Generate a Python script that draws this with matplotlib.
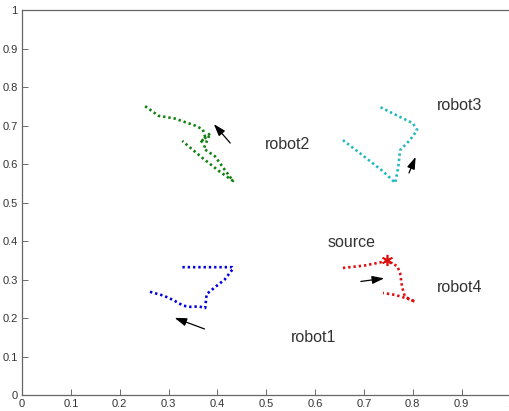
#!/usr/bin/env python3
"""Robot trajectories toward a source: four dotted paths with direction arrows."""
import matplotlib
matplotlib.use("Agg")
import matplotlib.pyplot as plt

plt.rcParams['font.family'] = ['Liberation Sans', 'DejaVu Sans']

# robot paths (x, y)
robot1_x = [0.262, 0.290, 0.309, 0.330, 0.344, 0.362, 0.375, 0.378, 0.395, 0.415, 0.432, 0.430, 0.380, 0.323]
robot1_y = [0.268, 0.258, 0.247, 0.232, 0.229, 0.230, 0.226, 0.262, 0.280, 0.300, 0.328, 0.332, 0.332, 0.332]

robot2_x = [0.252, 0.280, 0.313, 0.354, 0.370, 0.375, 0.365, 0.385, 0.372, 0.395, 0.415, 0.432, 0.405, 0.370, 0.328]
robot2_y = [0.750, 0.725, 0.718, 0.700, 0.690, 0.670, 0.655, 0.680, 0.640, 0.620, 0.585, 0.556, 0.580, 0.615, 0.660]

robot3_x = [0.657, 0.700, 0.740, 0.764, 0.770, 0.774, 0.794, 0.809, 0.800, 0.774, 0.733]
robot3_y = [0.662, 0.620, 0.580, 0.551, 0.590, 0.636, 0.662, 0.688, 0.706, 0.722, 0.748]

robot4_x = [0.657, 0.700, 0.747, 0.768, 0.774, 0.778, 0.784, 0.805, 0.790, 0.764, 0.739]
robot4_y = [0.330, 0.336, 0.348, 0.335, 0.317, 0.281, 0.255, 0.242, 0.250, 0.260, 0.265]

source_xy = (0.747, 0.350)

# arrows: (tail, head)
arrows = [
    ((0.379, 0.169), (0.307, 0.203)),
    ((0.430, 0.649), (0.389, 0.709)),
    ((0.790, 0.570), (0.808, 0.625)),
    ((0.688, 0.294), (0.747, 0.304)),
]

labels = ['robot1', 'robot2', 'robot3', 'robot4', 'source']
label_pos = [(0.551, 0.150), (0.497, 0.650), (0.850, 0.753), (0.850, 0.280), (0.626, 0.395)]

fig = plt.figure(figsize=(5.10, 4.11), dpi=100)
ax = fig.add_axes([22 / 510, 16 / 411, 488.5 / 510, 385 / 411])

dots = (0, (0.9, 1.1))
ax.plot(robot1_x, robot1_y, linestyle=dots, color='#0000dd', linewidth=1.9)
ax.plot(robot2_x, robot2_y, linestyle=dots, color='#108010', linewidth=1.9)
ax.plot(robot3_x, robot3_y, linestyle=dots, color='#20b8c0', linewidth=1.9)
ax.plot(robot4_x, robot4_y, linestyle=dots, color='#dd1010', linewidth=1.9)
ax.plot(*source_xy, marker=(6, 2, 0), color='#dd1010', markersize=8,
        markeredgewidth=1.2, linestyle='none')

for tail, head in arrows:
    ax.annotate('', xy=head, xytext=tail,
                arrowprops=dict(arrowstyle='-|>,head_length=0.6,head_width=0.2',
                                color='black', lw=0.9, mutation_scale=12))

for txt, (x, y) in zip(labels, label_pos):
    ax.text(x, y, txt, fontsize=11.5, color='#333333', va='center', ha='left')

ax.set_xlim(0, 1)
ax.set_ylim(0, 1)
ticks = [0, 0.1, 0.2, 0.3, 0.4, 0.5, 0.6, 0.7, 0.8, 0.9, 1]
ax.set_xticks(ticks)
ax.set_yticks(ticks)
ax.set_xticklabels(['0', '0.1', '0.2', '0.3', '0.4', '0.5', '0.6', '0.7', '0.8', '0.9', '1'])
ax.set_yticklabels(['0', '0.1', '0.2', '0.3', '0.4', '0.5', '0.6', '0.7', '0.8', '0.9', '1'])
ax.tick_params(direction='in', length=4, width=0.6, labelsize=8,
               colors='#555555', labelcolor='#333333', top=False, right=False, pad=3)
for s in ax.spines.values():
    s.set_color('#666666')
    s.set_linewidth(0.9)

fig.savefig('out.png', dpi=100)
